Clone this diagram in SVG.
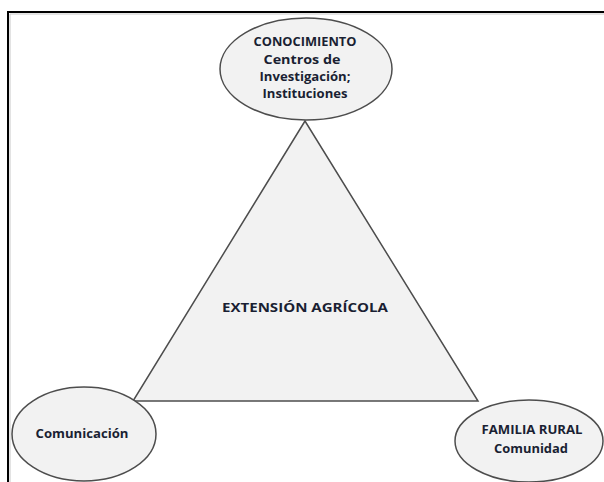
<svg xmlns="http://www.w3.org/2000/svg" width="604" height="482" viewBox="0 0 604 482">
  <style>
    .shape { fill: #f2f2f2; stroke: #4d4d4d; stroke-width: 1.5; }
    .lbl { font-family: "Open Sans", "Liberation Sans", sans-serif; font-weight: bold; font-size: 12.5px; fill: #1a1f33; text-anchor: middle; }
    .frame { stroke: #000; stroke-width: 2; fill: none; }
  </style>
  <rect width="604" height="482" fill="#ffffff"/>
  <g id="frame">
    <path class="frame" d="M8,482 L8,12 L604,12"/>
    <path d="M10,482 L10,14 L604,14" stroke="#c8c8c8" stroke-width="1" fill="none"/>
  </g>
  <g id="connectors"></g>
  <g id="extension">
    <polygon class="shape" points="305,121 133,401 478,401" fill="#f1f1f1"/>
    <text class="lbl" x="305" y="312" font-size="14" textLength="166" lengthAdjust="spacingAndGlyphs">EXTENSIÓN AGRÍCOLA</text>
  </g>
  <g id="conocimiento">
    <ellipse class="shape" cx="306" cy="69" rx="86" ry="51"/>
    <text class="lbl" x="305" y="46" textLength="103" lengthAdjust="spacingAndGlyphs">CONOCIMIENTO</text>
    <text class="lbl" x="302" y="64" textLength="77" lengthAdjust="spacingAndGlyphs">Centros de</text>
    <text class="lbl" x="305" y="81" textLength="91" lengthAdjust="spacingAndGlyphs">Investigación;</text>
    <text class="lbl" x="305" y="98" textLength="85" lengthAdjust="spacingAndGlyphs">Instituciones</text>
  </g>
  <g id="comunicacion">
    <ellipse class="shape" cx="84" cy="434" rx="72" ry="47"/>
    <text class="lbl" x="82" y="438" textLength="93" lengthAdjust="spacingAndGlyphs">Comunicación</text>
  </g>
  <g id="familia">
    <ellipse class="shape" cx="529" cy="441" rx="74" ry="41"/>
    <text class="lbl" x="532" y="434" textLength="101" lengthAdjust="spacingAndGlyphs">FAMILIA RURAL</text>
    <text class="lbl" x="531" y="453" textLength="74" lengthAdjust="spacingAndGlyphs">Comunidad</text>
  </g>
</svg>
